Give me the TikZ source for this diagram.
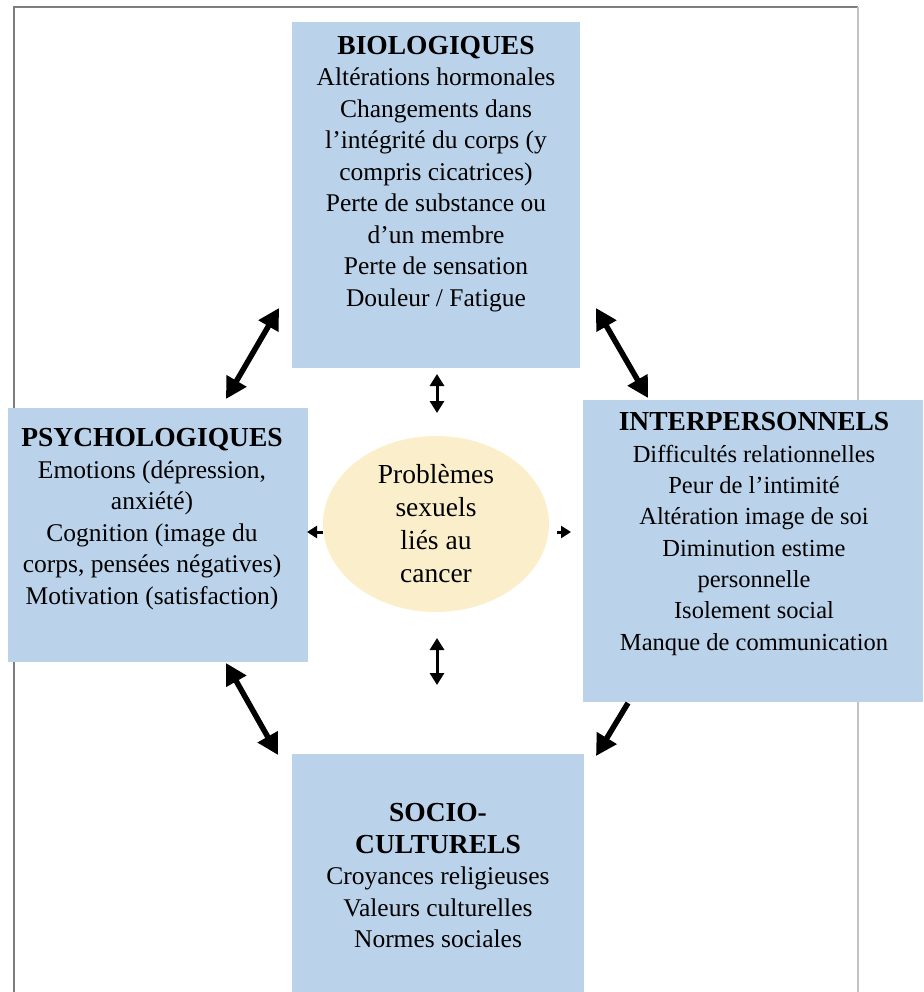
\documentclass[tikz,border=0pt]{standalone}
\usepackage{fontspec}
\setmainfont{Liberation Serif}
\usepackage{tikz}
\usetikzlibrary{shapes.geometric}
\usetikzlibrary{arrows.meta}

\definecolor{boxblue}{RGB}{187,211,234}
\definecolor{coreyellow}{RGB}{251,238,202}
\definecolor{framegray}{RGB}{125,125,125}
\definecolor{framelight}{RGB}{195,195,195}

\newcommand{\factorname}[1]{{\fontsize{27.5}{31.5}\selectfont\bfseries #1}}

\tikzset{
	factor/.style={rectangle, fill=boxblue, inner sep=0pt},
	factortext/.style={align=center, inner sep=0pt, font=\fontsize{25.5}{31.5}\selectfont},
	bigarrow/.style={line width=5.5pt, {Triangle[length=21pt,width=22pt]}-{Triangle[length=21pt,width=22pt]}},
	oneway/.style={line width=5.5pt, -{Triangle[length=21pt,width=22pt]}},
	smallarrow/.style={line width=3pt, {Triangle[length=12pt,width=14pt]}-{Triangle[length=12pt,width=14pt]}},
	outarrow/.style={line width=3pt, -{Triangle[length=10pt,width=12pt]}}
}

\begin{document}
\begin{tikzpicture}[x=1pt, y=-1pt]
				% Frame, boxes, centre and arrows:
				\useasboundingbox (0, 0) rectangle (923, 992);
				\draw[framegray, line width=1.5pt] (14, 992) -- (14, 7) -- (858, 7);
				\draw[framelight, line width=1.5pt] (858, 7) -- (858, 992);
				\node[factor, minimum width=288pt, minimum height=346pt](BIO) at (436, 195){};
				\node[factor, minimum width=300pt, minimum height=254pt](PSY) at (158, 535){};
				\node[factor, minimum width=340pt, minimum height=302pt](INTER) at (753, 551){};
				\node[factor, minimum width=292pt, minimum height=238pt](SOCIO) at (438, 873){};
				\node[factortext](BIOtext) at (436, 174){\factorname{BIOLOGIQUES}\\ Altérations hormonales\\ Changements dans\\ l’intégrité du corps (y\\ compris cicatrices)\\ Perte de substance ou\\ d’un membre\\ Perte de sensation\\ Douleur / Fatigue};
				\node[factortext](PSYtext) at (152, 519){\factorname{PSYCHOLOGIQUES}\\ Emotions (dépression,\\ anxiété)\\ Cognition (image du\\ corps, pensées négatives)\\ Motivation (satisfaction)};
				\node[factortext, font=\fontsize{24.5}{31.3}\selectfont](INTERtext) at (754, 534){\factorname{INTERPERSONNELS}\\ Difficultés relationnelles\\ Peur de l’intimité\\ Altération image de soi\\ Diminution estime\\ personnelle\\ Isolement social\\ Manque de communication};
				\node[factortext](SOCIOtext) at (438, 876){\factorname{SOCIO-}\\ \factorname{CULTURELS}\\ Croyances religieuses\\ Valeurs culturelles\\ Normes sociales};
				\node[ellipse, fill=coreyellow, minimum width=226pt, minimum height=176pt, inner sep=0pt, factortext, font=\fontsize{27.5}{33}\selectfont](CORE) at (436, 524){Problèmes\\ sexuels\\ liés au\\ cancer};
				\coordinate (A1) at (226, 399);
				\coordinate (A2) at (279, 308);
				\coordinate (A3) at (596, 308);
				\coordinate (A4) at (648, 398);
				\coordinate (A5) at (226, 663);
				\coordinate (A6) at (278, 755);
				\coordinate (A7) at (628, 703);
				\coordinate (A8) at (596, 756);
				\coordinate (S1) at (437, 374);
				\coordinate (S2) at (437, 413);
				\coordinate (S3) at (437, 638);
				\coordinate (S4) at (437, 685);
				\coordinate (S5) at (307, 532);
				\coordinate (S6) at (571, 532);
				\coordinate (CW) at (323, 532);
				\coordinate (CE) at (557, 532);
				\draw[bigarrow] (A1) -- (A2);
				\draw[bigarrow] (A3) -- (A4);
				\draw[bigarrow] (A5) -- (A6);
				\draw[oneway] (A7) -- (A8);
				\draw[smallarrow] (S1) -- (S2);
				\draw[smallarrow] (S3) -- (S4);
				\draw[outarrow] (CW) -- (S5);
				\draw[outarrow] (CE) -- (S6);
			\end{tikzpicture}
\end{document}
